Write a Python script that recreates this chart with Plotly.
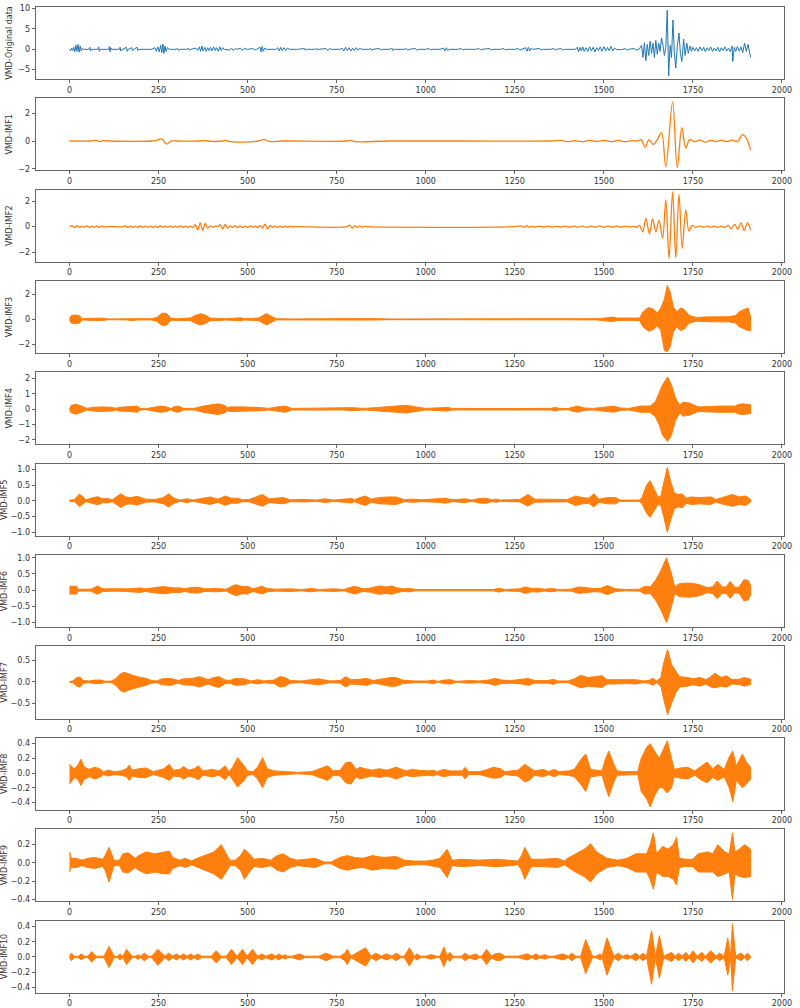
import plotly.graph_objects as go

# ---------------- data ----------------
orig_x = [0, 3, 6, 9, 12, 15, 18, 21, 24, 27, 30, 33, 36, 40, 55, 57, 59, 62, 80, 82, 84, 86, 110, 112, 114, 116, 118,
          140, 142, 144, 150, 160, 162, 165, 175, 177, 180, 190, 192, 195, 230, 240, 244, 248, 252, 256, 259, 262, 265,
          268, 271, 275, 280, 300, 303, 306, 310, 330, 333, 336, 340, 355, 360, 365, 368, 372, 375, 380, 384, 388, 392,
          396, 400, 405, 409, 413, 418, 422, 426, 430, 435, 450, 455, 460, 465, 470, 480, 485, 490, 500, 515, 520, 525,
          535, 538, 541, 544, 548, 552, 580, 585, 589, 593, 597, 602, 607, 612, 618, 640, 660, 662, 665, 690, 695, 698,
          700, 720, 725, 730, 735, 760, 765, 770, 775, 780, 785, 790, 795, 800, 805, 810, 815, 820, 840, 845, 848, 852,
          870, 873, 876, 900, 905, 908, 912, 940, 945, 950, 955, 970, 975, 980, 1000, 1010, 1014, 1018, 1040, 1050,
          1054, 1058, 1062, 1066, 1090, 1100, 1104, 1108, 1140, 1150, 1154, 1158, 1180, 1184, 1188, 1210, 1220, 1224,
          1228, 1250, 1260, 1264, 1268, 1280, 1284, 1288, 1292, 1296, 1300, 1320, 1324, 1328, 1350, 1360, 1364, 1368,
          1380, 1384, 1390, 1420, 1425, 1429, 1433, 1437, 1441, 1445, 1450, 1455, 1460, 1465, 1470, 1475, 1480, 1485,
          1490, 1495, 1500, 1505, 1510, 1515, 1520, 1525, 1530, 1535, 1550, 1560, 1565, 1570, 1585, 1590, 1600, 1606,
          1610, 1614, 1618, 1622, 1626, 1630, 1634, 1638, 1642, 1646, 1650, 1654, 1658, 1662, 1666, 1670, 1674, 1678,
          1682, 1686, 1690, 1694, 1698, 1702, 1706, 1711, 1715, 1719, 1724, 1728, 1733, 1737, 1742, 1746, 1750, 1755,
          1760, 1765, 1770, 1775, 1780, 1785, 1790, 1795, 1800, 1805, 1810, 1815, 1820, 1825, 1830, 1835, 1840, 1845,
          1850, 1855, 1860, 1862, 1866, 1870, 1875, 1880, 1885, 1890, 1895, 1900, 1905, 1910, 1912]
orig_y = [0, -0.4, 0.3, -0.3, 0.5, -0.6, 1.0, -0.5, 1.2, -0.7, 0.8, -0.4, 0.3, 0, 0, 0.5, -0.4, 0, 0, 0.6, -0.5, 0, 0,
          0.7, -0.6, 0.4, 0, 0, 0.5, -0.4, 0, 0.5, -0.5, 0, 0.4, -0.4, 0, 0.5, -0.3, 0, 0, 0.4, -0.5, 0.6, -0.6, 1.0,
          -0.8, 1.3, -1.0, 0.8, -0.5, 0.4, 0, 0, 0.3, -0.3, 0, 0, 0.3, -0.2, 0, 0.3, -0.3, 0.6, -0.5, 0.8, -0.4, 0.5,
          -0.5, 0.4, -0.3, 0.5, -0.4, 0.6, -0.3, 0.4, -0.5, 0.6, -0.3, 0.4, 0, -0.2, 0.3, -0.3, 0.2, 0, 0.3, -0.3, 0.2,
          0, 0.2, -0.2, 0, 0.5, -0.6, 0.7, -0.5, 0.3, 0, 0, 0.4, -0.4, 0.5, -0.3, 0.4, -0.3, 0.3, 0, 0, 0.2, -0.2, 0, 0,
          0.2, -0.2, 0, 0.2, -0.3, 0.2, 0, 0, 0.3, -0.4, 0.5, -0.3, 0.4, -0.4, 0.3, -0.3, 0.4, -0.2, 0.3, 0, 0, 0.2,
          -0.2, 0, 0.2, -0.2, 0, 0, 0.3, -0.3, 0, 0, 0.2, -0.2, 0, 0.2, -0.2, 0, 0, 0.2, -0.2, 0, 0, 0.3, -0.4, 0.4,
          -0.3, 0, 0, 0.2, -0.2, 0, 0, 0.2, -0.2, 0, 0.2, -0.2, 0, 0, 0.2, -0.2, 0, 0, 0.2, -0.2, 0, 0.4, -0.5, 0.5,
          -0.4, 0.3, 0, 0.2, -0.2, 0, 0, 0.2, -0.2, 0, 0.2, -0.2, 0, 0, 0.5, -0.6, 0.5, -0.4, 0.6, -0.5, 0.4, -0.5, 0.6,
          -0.4, 0.5, -0.6, 0.4, -0.3, 0.6, -0.5, 0.7, -0.4, 0.5, -0.3, 0.7, -0.4, 0.3, 0, -0.1, 0.2, -0.2, 0, 0.2,
          -0.2, 0.1, 1.0, -2.0, 1.6, -2.8, 1.2, -1.5, 2.0, -1.0, 1.5, -2.0, 2.2, -1.2, 1.5, -0.5, 2.8, 1.0, -1.5, 0.5,
          9.6, -6.5, 1.0, -2.0, 7.2, -1.0, -4.6, 0.5, 4.0, -1.0, -3.0, 2.5, -1.5, 1.5, -1.0, 0.8, -0.5, 0.5, -0.4, 0.4,
          -0.5, 0.6, -0.3, 0.5, -0.6, 0.4, -0.3, 0.6, -0.5, 0.3, -0.4, 0.5, -0.6, 0.4, -0.3, 0.6, -0.4, 0.3, -0.6, 0.8,
          -3.0, 0.5, -0.5, 0.7, -0.4, 0.6, -0.8, 1.5, -0.5, 1.2, -1.0, -2.0]

imf1_x = [0, 60, 75, 85, 95, 110, 230, 245, 259, 273, 285, 300, 360, 380, 400, 430, 440, 450, 530, 546, 560, 600, 780,
          790, 800, 900, 1100, 1350, 1380, 1400, 1420, 1440, 1460, 1480, 1500, 1520, 1540, 1560, 1580, 1595, 1605, 1616,
          1627, 1639, 1650, 1662, 1674, 1693, 1706, 1719, 1730, 1741, 1755, 1770, 1785, 1800, 1815, 1830, 1845, 1860,
          1875, 1889, 1900, 1912]
imf1_y = [0, 0, 0.05, -0.05, 0.03, 0, 0, 0.05, 0.15, -0.22, 0.0, 0, 0, 0.03, -0.03, 0, 0.05, -0.05, 0, 0.12, -0.03, 0,
          0, 0.05, -0.04, 0, 0, 0, 0.04, -0.04, 0.03, -0.05, 0.04, -0.03, 0.05, -0.04, 0.04, -0.05, 0.03, 0, 0.1,
          -0.45, 0.1, -0.25, 0.1, 0.6, -1.85, 2.8, -1.9, 0.95, -0.5, 0.1, -0.05, 0.06, -0.08, 0.05, -0.04, 0.07, -0.05,
          0.06, -0.03, 0.45, 0.2, -0.65]

imf2_x = [0, 7, 14, 21, 28, 35, 42, 49, 56, 63, 70, 77, 84, 91, 98, 105, 150, 157, 164, 171, 178, 185, 192, 199, 206,
          213, 220, 227, 234, 241, 248, 255, 262, 269, 276, 283, 290, 297, 304, 311, 318, 325, 332, 339, 346, 353, 360,
          367, 374, 381, 388, 395, 402, 409, 416, 423, 430, 437, 444, 451, 458, 465, 472, 479, 486, 493, 500, 507, 514,
          521, 528, 535, 542, 549, 556, 563, 570, 577, 584, 591, 598, 605, 612, 619, 626, 633, 780, 787, 794, 801, 808,
          815, 822, 829, 836, 1250, 1270, 1277, 1284, 1291, 1298, 1305, 1320, 1332, 1344, 1356, 1368, 1380, 1392, 1404,
          1416, 1428, 1440, 1452, 1464, 1476, 1488, 1500, 1512, 1524, 1536, 1548, 1560, 1572, 1584, 1592, 1600, 1609,
          1618, 1628, 1637, 1646, 1655, 1665, 1674, 1683, 1693, 1702, 1711, 1720, 1730, 1739, 1748, 1757, 1770, 1780,
          1790, 1800, 1810, 1820, 1830, 1840, 1849, 1858, 1867, 1876, 1885, 1894, 1903, 1912]
imf2_y = [0, 0.08, -0.08, 0.08, -0.06, 0.05, -0.05, 0.06, -0.06, 0.05, -0.05, 0.06, -0.06, 0.04, -0.03, 0, 0, 0.06,
          -0.06, 0.05, -0.06, 0.05, -0.05, 0.06, -0.05, 0.04, -0.05, 0.05, -0.06, 0.05, -0.07, 0.08, -0.06, 0.05,
          -0.05, 0.06, -0.06, 0.05, -0.05, 0.06, -0.05, 0.05, -0.06, 0.05, -0.08, 0.15, -0.25, 0.3, -0.3, 0.25, -0.12,
          0.06, -0.05, 0.04, 0, 0.15, -0.18, 0.18, -0.12, 0.06, -0.06, 0.08, -0.08, 0.06, -0.06, 0.05, -0.06, 0.06,
          -0.04, 0.05, -0.06, 0.08, -0.12, 0.2, -0.18, 0.1, -0.06, 0.06, -0.06, 0.05, -0.06, 0.05, -0.04, 0.04, -0.03,
          0, 0, 0.12, -0.12, 0.08, -0.05, 0.04, -0.04, 0.03, 0, 0, 0.05, -0.05, 0.08, -0.06, 0.04, -0.03, 0.03, -0.03,
          0.04, -0.04, 0.03, -0.03, 0.04, -0.04, 0.05, -0.05, 0.04, -0.05, 0.05, -0.04, 0.06, -0.05, 0.04, -0.04, 0.05,
          -0.04, 0.04, -0.03, 0.03, -0.05, 0.1, -0.4, 0.65, -0.55, 0.6, -0.4, 0.5, -0.9, 2.1, -2.5, 2.75, -2.45, 2.55,
          -1.7, 1.3, -0.35, 0.1, -0.05, 0.05, -0.05, 0.04, -0.04, 0.05, -0.05, 0.04, -0.06, 0.1, -0.15, 0.2, -0.2, 0.3,
          -0.3, 0.3, -0.25]

imf3_x = [0, 5, 15, 28, 35, 60, 75, 90, 110, 160, 175, 190, 230, 245, 260, 273, 285, 300, 340, 352, 368, 384, 395, 420,
          440, 480, 490, 530, 537, 553, 570, 580, 620, 700, 760, 790, 800, 850, 900, 1000, 1100, 1200, 1300, 1400, 1480,
          1510, 1525, 1537, 1560, 1600, 1610, 1625, 1640, 1650, 1660, 1670, 1678, 1686, 1695, 1705, 1715, 1725, 1740,
          1760, 1800, 1850, 1870, 1880, 1895, 1905, 1912]
imf3_hi = [0.05, 0.3, 0.35, 0.3, 0.05, 0.08, 0.12, 0.1, 0.03, 0.05, 0.1, 0.05, 0.05, 0.15, 0.5, 0.45, 0.08, 0.05, 0.1,
           0.3, 0.45, 0.3, 0.1, 0.1, 0.05, 0.12, 0.05, 0.1, 0.2, 0.45, 0.2, 0.05, 0.03, 0.05, 0.08, 0.1, 0.05, 0.06,
           0.03, 0.04, 0.03, 0.03, 0.03, 0.04, 0.05, 0.12, 0.18, 0.1, 0.08, 0.1, 0.6, 0.95, 0.8, 0.5, 0.9, 1.6, 2.72,
           2.2, 1.0, 0.6, 0.9, 0.8, 0.3, 0.15, 0.2, 0.2, 0.3, 0.6, 0.8, 0.9, 0.2]
imf3_lo = [-0.05, -0.3, -0.35, -0.3, -0.05, -0.08, -0.12, -0.1, -0.03, -0.05, -0.1, -0.05, -0.05, -0.15, -0.5, -0.45,
           -0.08, -0.05, -0.1, -0.3, -0.45, -0.3, -0.1, -0.1, -0.05, -0.12, -0.05, -0.1, -0.2, -0.45, -0.2, -0.05,
           -0.03, -0.05, -0.08, -0.1, -0.05, -0.06, -0.03, -0.04, -0.03, -0.03, -0.03, -0.04, -0.05, -0.12, -0.18, -0.1,
           -0.08, -0.1, -0.6, -0.95, -0.8, -0.5, -0.9, -2.5, -2.6, -2.2, -1.0, -0.6, -0.9, -0.8, -0.3, -0.15, -0.2, -0.2,
           -0.3, -0.6, -0.8, -0.9, -0.9]

imf4_x = [0, 5, 20, 37, 50, 65, 90, 120, 130, 139, 170, 190, 199, 215, 236, 255, 273, 285, 292, 306, 320, 350, 375, 400,
          417, 435, 444, 449, 490, 537, 560, 583, 605, 625, 700, 770, 790, 830, 917, 945, 972, 1000, 1046, 1060, 1074,
          1100, 1200, 1352, 1363, 1375, 1400, 1408, 1427, 1445, 1470, 1509, 1528, 1546, 1570, 1602, 1616, 1630, 1645,
          1655, 1665, 1679, 1690, 1700, 1713, 1722, 1740, 1760, 1769, 1820, 1870, 1875, 1890, 1905, 1912]
imf4_hi = [0.02, 0.25, 0.32, 0.15, 0.05, 0.12, 0.15, 0.12, 0.05, 0.12, 0.15, 0.2, 0.05, 0.03, 0.12, 0.2, 0.15, 0.03,
           0.15, 0.2, 0.05, 0.05, 0.2, 0.3, 0.35, 0.25, 0.1, 0.15, 0.15, 0.1, 0.05, 0.15, 0.2, 0.05, 0.06, 0.05, 0.1,
           0.05, 0.2, 0.25, 0.15, 0.05, 0.1, 0.12, 0.05, 0.04, 0.04, 0.05, 0.12, 0.05, 0.04, 0.1, 0.2, 0.08, 0.05, 0.15,
           0.2, 0.08, 0.05, 0.2, 0.2, 0.2, 0.5, 1.0, 1.6, 2.1, 1.6, 0.8, 0.25, 0.45, 0.4, 0.2, 0.15, 0.2, 0.2, 0.3,
           0.35, 0.3, 0.3]
imf4_lo = [-0.02, -0.25, -0.32, -0.15, -0.05, -0.12, -0.15, -0.12, -0.05, -0.12, -0.15, -0.2, -0.05, -0.03, -0.12,
           -0.2, -0.15, -0.03, -0.15, -0.2, -0.05, -0.05, -0.2, -0.3, -0.35, -0.25, -0.1, -0.15, -0.15, -0.1, -0.05,
           -0.15, -0.2, -0.05, -0.06, -0.05, -0.1, -0.05, -0.2, -0.25, -0.15, -0.05, -0.1, -0.12, -0.05, -0.04, -0.04,
           -0.05, -0.12, -0.05, -0.04, -0.1, -0.2, -0.08, -0.05, -0.15, -0.2, -0.08, -0.05, -0.2, -0.2, -0.2, -0.5,
           -1.0, -1.7, -2.1, -1.7, -0.8, -0.25, -0.45, -0.4, -0.2, -0.15, -0.2, -0.2, -0.3, -0.35, -0.3, -0.3]

imf5_x = [0, 14, 20, 28, 38, 46, 60, 79, 93, 105, 120, 132, 144, 158, 171, 190, 213, 240, 252, 264, 278, 294, 310, 330,
          347, 375, 395, 417, 437, 454, 472, 486, 505, 523, 542, 560, 579, 600, 620, 660, 694, 717, 741, 765, 782, 792,
          800, 815, 831, 847, 870, 893, 917, 940, 960, 991, 1010, 1037, 1055, 1074, 1093, 1111, 1130, 1150, 1170, 1185,
          1199, 1210, 1264, 1287, 1306, 1350, 1398, 1420, 1440, 1458, 1472, 1486, 1510, 1533, 1545, 1600, 1607, 1620,
          1630, 1640, 1652, 1660, 1668, 1678, 1688, 1698, 1709, 1720, 1732, 1745, 1770, 1800, 1815, 1830, 1850, 1861,
          1880, 1898, 1912]
imf5_hi = [0.02, 0.03, 0.12, 0.21, 0.12, 0.03, 0.08, 0.13, 0.06, 0.07, 0.03, 0.12, 0.22, 0.12, 0.1, 0.14, 0.05, 0.04,
           0.06, 0.1, 0.22, 0.08, 0.02, 0.06, 0.02, 0.08, 0.12, 0.05, 0.15, 0.08, 0.08, 0.03, 0.04, 0.12, 0.2, 0.06,
           0.08, 0.1, 0.03, 0.04, 0.02, 0.06, 0.02, 0.03, 0.06, 0.07, 0.03, 0.1, 0.15, 0.05, 0.1, 0.12, 0.12, 0.03,
           0.05, 0.03, 0.04, 0.05, 0.08, 0.03, 0.05, 0.06, 0.02, 0.07, 0.08, 0.03, 0.05, 0.02, 0.04, 0.2, 0.05, 0.04,
           0.04, 0.15, 0.1, 0.08, 0.22, 0.05, 0.1, 0.1, 0.02, 0.02, 0.1, 0.5, 0.64, 0.4, 0.12, 0.15, 0.6, 1.06, 0.6,
           0.25, 0.2, 0.22, 0.08, 0.12, 0.1, 0.12, 0.04, 0.1, 0.16, 0.2, 0.12, 0.15, 0.04]
imf5_lo = [-0.02, -0.03, -0.1, -0.19, -0.1, -0.03, -0.08, -0.13, -0.06, -0.07, -0.03, -0.12, -0.22, -0.12, -0.1, -0.14,
           -0.05, -0.04, -0.06, -0.1, -0.2, -0.08, -0.02, -0.06, -0.02, -0.08, -0.12, -0.05, -0.15, -0.08, -0.08, -0.03,
           -0.04, -0.12, -0.18, -0.06, -0.08, -0.1, -0.03, -0.04, -0.02, -0.06, -0.02, -0.03, -0.06, -0.07, -0.03,
           -0.1, -0.15, -0.05, -0.1, -0.12, -0.12, -0.03, -0.05, -0.03, -0.04, -0.05, -0.08, -0.03, -0.05, -0.06,
           -0.02, -0.07, -0.08, -0.03, -0.05, -0.02, -0.04, -0.17, -0.05, -0.04, -0.04, -0.15, -0.1, -0.08, -0.2,
           -0.05, -0.1, -0.1, -0.02, -0.02, -0.1, -0.4, -0.53, -0.35, -0.12, -0.15, -0.5, -1.01, -0.6, -0.25, -0.2,
           -0.22, -0.08, -0.12, -0.1, -0.12, -0.04, -0.1, -0.16, -0.18, -0.12, -0.15, -0.04]

imf6_x = [0, 20, 24, 60, 70, 79, 93, 130, 160, 181, 197, 213, 236, 264, 292, 310, 324, 340, 360, 380, 410, 440, 452, 467,
          486, 500, 515, 540, 555, 580, 620, 650, 680, 700, 740, 770, 787, 800, 824, 843, 870, 890, 905, 917, 935, 955,
          972, 1000, 1050, 1074, 1190, 1205, 1222, 1264, 1280, 1296, 1315, 1333, 1355, 1370, 1408, 1430, 1450, 1472,
          1491, 1510, 1533, 1560, 1600, 1615, 1630, 1645, 1660, 1676, 1690, 1699, 1712, 1740, 1765, 1790, 1805, 1818,
          1832, 1843, 1855, 1868, 1880, 1893, 1905, 1912]
imf6_hi = [0.12, 0.12, 0.03, 0.03, 0.08, 0.13, 0.04, 0.03, 0.04, 0.05, 0.07, 0.04, 0.08, 0.11, 0.07, 0.07, 0.04, 0.08,
           0.09, 0.04, 0.05, 0.03, 0.1, 0.17, 0.11, 0.12, 0.04, 0.12, 0.05, 0.03, 0.04, 0.02, 0.05, 0.02, 0.04, 0.02,
           0.08, 0.12, 0.04, 0.06, 0.13, 0.1, 0.13, 0.08, 0.04, 0.05, 0.02, 0.02, 0.03, 0.02, 0.02, 0.06, 0.02, 0.04,
           0.1, 0.05, 0.06, 0.03, 0.05, 0.02, 0.03, 0.1, 0.07, 0.05, 0.06, 0.14, 0.04, 0.02, 0.03, 0.12, 0.1, 0.3, 0.6,
           1.0, 0.5, 0.1, 0.2, 0.22, 0.18, 0.08, 0.1, 0.28, 0.1, 0.1, 0.27, 0.08, 0.1, 0.32, 0.3, 0.15]
imf6_lo = [-0.12, -0.12, -0.03, -0.03, -0.08, -0.13, -0.04, -0.03, -0.04, -0.05, -0.07, -0.04, -0.08, -0.11, -0.07,
           -0.07, -0.04, -0.08, -0.09, -0.04, -0.05, -0.03, -0.1, -0.17, -0.11, -0.12, -0.04, -0.12, -0.05, -0.03,
           -0.04, -0.02, -0.05, -0.02, -0.04, -0.02, -0.08, -0.12, -0.04, -0.06, -0.13, -0.1, -0.13, -0.08, -0.04,
           -0.05, -0.02, -0.02, -0.03, -0.02, -0.02, -0.06, -0.02, -0.04, -0.1, -0.05, -0.06, -0.03, -0.05, -0.02,
           -0.03, -0.1, -0.07, -0.05, -0.06, -0.14, -0.04, -0.02, -0.03, -0.12, -0.1, -0.3, -0.6, -1.0, -0.5, -0.1,
           -0.2, -0.22, -0.18, -0.08, -0.1, -0.26, -0.1, -0.1, -0.25, -0.08, -0.1, -0.33, -0.3, -0.15]

imf7_x = [0, 10, 20, 30, 38, 56, 70, 90, 100, 118, 130, 143, 153, 170, 190, 215, 231, 245, 260, 285, 306, 320, 345, 365,
          389, 405, 420, 435, 450, 465, 490, 509, 530, 545, 574, 590, 605, 620, 650, 680, 700, 731, 760, 775, 790, 815,
          835, 852, 875, 900, 917, 935, 970, 1005, 1020, 1035, 1050, 1070, 1085, 1120, 1150, 1176, 1195, 1213, 1240,
          1269, 1288, 1306, 1343, 1358, 1370, 1400, 1417, 1435, 1455, 1475, 1495, 1509, 1530, 1560, 1590, 1610, 1625,
          1638, 1648, 1660, 1668, 1679, 1690, 1702, 1713, 1735, 1750, 1770, 1787, 1800, 1812, 1830, 1845, 1860, 1880,
          1895, 1912]
imf7_hi = [0.01, 0.02, 0.1, 0.11, 0.03, 0.02, 0.04, 0.04, 0.01, 0.02, 0.08, 0.18, 0.22, 0.17, 0.12, 0.08, 0.03, 0.02,
           0.07, 0.08, 0.03, 0.07, 0.08, 0.12, 0.05, 0.1, 0.12, 0.05, 0.03, 0.08, 0.07, 0.02, 0.05, 0.02, 0.04, 0.12,
           0.1, 0.03, 0.02, 0.05, 0.07, 0.02, 0.03, 0.12, 0.05, 0.06, 0.08, 0.03, 0.06, 0.1, 0.1, 0.04, 0.02, 0.02,
           0.04, 0.01, 0.04, 0.05, 0.01, 0.03, 0.02, 0.04, 0.08, 0.04, 0.03, 0.05, 0.08, 0.03, 0.03, 0.06, 0.02, 0.02,
           0.07, 0.15, 0.1, 0.12, 0.14, 0.05, 0.05, 0.04, 0.05, 0.02, 0.03, 0.08, 0.02, 0.1, 0.44, 0.75, 0.4, 0.25,
           0.12, 0.1, 0.07, 0.1, 0.05, 0.12, 0.2, 0.1, 0.14, 0.05, 0.06, 0.1, 0.06]
imf7_lo = [-0.01, -0.02, -0.1, -0.12, -0.03, -0.02, -0.04, -0.04, -0.01, -0.02, -0.08, -0.2, -0.24, -0.18, -0.13, -0.08,
           -0.03, -0.02, -0.07, -0.08, -0.03, -0.07, -0.08, -0.12, -0.05, -0.1, -0.13, -0.05, -0.03, -0.08, -0.07,
           -0.02, -0.05, -0.02, -0.04, -0.12, -0.1, -0.03, -0.02, -0.05, -0.07, -0.02, -0.03, -0.12, -0.05, -0.06,
           -0.08, -0.03, -0.06, -0.1, -0.1, -0.04, -0.02, -0.02, -0.04, -0.01, -0.04, -0.05, -0.01, -0.03, -0.02,
           -0.04, -0.08, -0.04, -0.03, -0.05, -0.08, -0.03, -0.03, -0.06, -0.02, -0.02, -0.07, -0.14, -0.1, -0.12,
           -0.13, -0.05, -0.05, -0.04, -0.05, -0.02, -0.03, -0.08, -0.02, -0.1, -0.4, -0.76, -0.5, -0.25, -0.12, -0.1,
           -0.07, -0.1, -0.05, -0.12, -0.14, -0.1, -0.12, -0.05, -0.06, -0.1, -0.06]

imf8_x = [0, 8, 15, 25, 32, 42, 56, 70, 85, 95, 110, 125, 145, 160, 168, 176, 195, 215, 235, 250, 265, 280, 292, 310,
          320, 335, 350, 362, 375, 400, 420, 437, 448, 458, 472, 490, 500, 515, 528, 542, 555, 575, 600, 640, 680, 713,
          725, 741, 760, 775, 790, 805, 815, 830, 850, 870, 890, 905, 917, 945, 960, 980, 1009, 1020, 1032, 1050, 1070,
          1102, 1111, 1120, 1150, 1167, 1190, 1210, 1222, 1259, 1278, 1290, 1306, 1330, 1345, 1360, 1375, 1400, 1417,
          1435, 1449, 1463, 1480, 1495, 1505, 1514, 1528, 1537, 1560, 1595, 1605, 1620, 1630, 1643, 1655, 1665, 1678,
          1690, 1698, 1715, 1735, 1755, 1775, 1790, 1806, 1820, 1838, 1852, 1862, 1872, 1889, 1900, 1912]
imf8_hi = [0.12, 0.08, 0.06, 0.12, 0.19, 0.08, 0.05, 0.08, 0.06, 0.02, 0.04, 0.02, 0.03, 0.06, 0.11, 0.04, 0.06, 0.07,
           0.02, 0.04, 0.06, 0.12, 0.04, 0.05, 0.09, 0.04, 0.06, 0.1, 0.03, 0.05, 0.03, 0.1, 0.02, 0.08, 0.21, 0.1,
           0.03, 0.02, 0.08, 0.21, 0.06, 0.03, 0.02, 0.01, 0.02, 0.08, 0.1, 0.03, 0.04, 0.14, 0.15, 0.05, 0.08, 0.06,
           0.04, 0.06, 0.04, 0.06, 0.08, 0.03, 0.05, 0.04, 0.03, 0.04, 0.02, 0.05, 0.03, 0.03, 0.08, 0.02, 0.02, 0.04,
           0.08, 0.06, 0.02, 0.04, 0.12, 0.08, 0.03, 0.05, 0.02, 0.05, 0.02, 0.03, 0.05, 0.18, 0.26, 0.05, 0.04, 0.03,
           0.2, 0.3, 0.12, 0.03, 0.02, 0.02, 0.2, 0.35, 0.4, 0.3, 0.2, 0.3, 0.44, 0.2, 0.05, 0.07, 0.08, 0.03, 0.1,
           0.15, 0.06, 0.12, 0.05, 0.22, 0.3, 0.1, 0.26, 0.15, 0.08]
imf8_lo = [-0.15, -0.1, -0.06, -0.1, -0.17, -0.08, -0.05, -0.08, -0.06, -0.02, -0.04, -0.02, -0.03, -0.05, -0.1, -0.04,
           -0.06, -0.06, -0.02, -0.04, -0.06, -0.1, -0.04, -0.05, -0.08, -0.04, -0.06, -0.09, -0.03, -0.05, -0.03,
           -0.09, -0.02, -0.08, -0.19, -0.1, -0.03, -0.02, -0.08, -0.2, -0.06, -0.03, -0.02, -0.01, -0.02, -0.08, -0.1,
           -0.03, -0.04, -0.13, -0.15, -0.05, -0.08, -0.06, -0.04, -0.06, -0.04, -0.06, -0.08, -0.03, -0.05, -0.04,
           -0.03, -0.04, -0.02, -0.05, -0.03, -0.03, -0.08, -0.02, -0.02, -0.04, -0.07, -0.06, -0.02, -0.04, -0.12,
           -0.1, -0.03, -0.05, -0.02, -0.05, -0.02, -0.03, -0.05, -0.15, -0.25, -0.05, -0.04, -0.03, -0.2, -0.32,
           -0.12, -0.03, -0.02, -0.02, -0.25, -0.35, -0.46, -0.3, -0.2, -0.2, -0.27, -0.2, -0.05, -0.07, -0.08, -0.03,
           -0.1, -0.13, -0.06, -0.1, -0.05, -0.2, -0.39, -0.1, -0.2, -0.15, -0.08]

imf9_x = [0, 5, 20, 35, 51, 70, 93, 100, 111, 120, 125, 140, 150, 165, 185, 194, 215, 240, 265, 280, 290, 310, 325, 343,
          352, 380, 405, 426, 440, 450, 465, 480, 491, 505, 518, 540, 565, 583, 600, 620, 640, 662, 690, 715, 735, 759,
          780, 800, 824, 850, 880, 917, 940, 970, 1000, 1019, 1040, 1060, 1074, 1102, 1150, 1200, 1240, 1259, 1269,
          1278, 1296, 1330, 1370, 1389, 1398, 1420, 1445, 1463, 1480, 1509, 1540, 1565, 1590, 1620, 1630, 1639, 1648,
          1665, 1680, 1695, 1704, 1712, 1730, 1750, 1765, 1790, 1806, 1820, 1840, 1852, 1861, 1868, 1880, 1895, 1912]
imf9_hi = [0.12, 0.05, 0.05, 0.03, 0.05, 0.06, 0.04, 0.08, 0.17, 0.08, 0.03, 0.03, 0.1, 0.11, 0.05, 0.08, 0.12, 0.1,
           0.12, 0.13, 0.06, 0.03, 0.05, 0.02, 0.04, 0.08, 0.12, 0.2, 0.1, 0.03, 0.03, 0.08, 0.15, 0.1, 0.04, 0.05,
           0.03, 0.08, 0.1, 0.05, 0.03, 0.04, 0.05, 0.01, 0.01, 0.06, 0.08, 0.06, 0.05, 0.08, 0.06, 0.07, 0.03, 0.02,
           0.02, 0.03, 0.05, 0.15, 0.03, 0.04, 0.03, 0.04, 0.03, 0.02, 0.08, 0.17, 0.04, 0.04, 0.05, 0.02, 0.05, 0.1,
           0.15, 0.21, 0.12, 0.05, 0.03, 0.05, 0.1, 0.1, 0.2, 0.33, 0.1, 0.18, 0.15, 0.2, 0.28, 0.05, 0.04, 0.04, 0.1,
           0.12, 0.1, 0.2, 0.12, 0.1, 0.33, 0.12, 0.15, 0.2, 0.15]
imf9_lo = [-0.1, -0.05, -0.05, -0.03, -0.05, -0.06, -0.04, -0.08, -0.21, -0.1, -0.03, -0.03, -0.1, -0.11, -0.05, -0.08,
           -0.12, -0.1, -0.12, -0.12, -0.06, -0.03, -0.05, -0.02, -0.04, -0.08, -0.12, -0.18, -0.1, -0.03, -0.03,
           -0.08, -0.18, -0.1, -0.04, -0.05, -0.03, -0.08, -0.1, -0.05, -0.03, -0.04, -0.05, -0.01, -0.01, -0.06,
           -0.08, -0.06, -0.05, -0.08, -0.06, -0.07, -0.03, -0.02, -0.02, -0.03, -0.05, -0.16, -0.03, -0.04, -0.03,
           -0.04, -0.03, -0.02, -0.08, -0.18, -0.04, -0.04, -0.05, -0.02, -0.05, -0.1, -0.15, -0.21, -0.12, -0.05,
           -0.03, -0.05, -0.1, -0.1, -0.18, -0.29, -0.1, -0.15, -0.15, -0.18, -0.24, -0.05, -0.04, -0.04, -0.1, -0.1,
           -0.1, -0.15, -0.12, -0.1, -0.4, -0.12, -0.15, -0.16, -0.15]

imf10_x = [0, 5, 14, 25, 33, 42, 52, 62, 74, 97, 111, 125, 135, 142, 150, 160, 176, 185, 193, 200, 210, 222, 231, 248,
           268, 278, 290, 300, 310, 320, 330, 340, 350, 360, 370, 398, 412, 426, 440, 455, 470, 486, 498, 514, 528, 540,
           550, 568, 578, 588, 598, 605, 612, 625, 646, 660, 700, 720, 740, 760, 773, 780, 790, 815, 831, 847, 860, 875,
           890, 905, 917, 930, 940, 954, 968, 975, 985, 1000, 1015, 1030, 1040, 1051, 1060, 1068, 1076, 1100, 1111,
           1122, 1140, 1150, 1157, 1171, 1185, 1194, 1208, 1222, 1240, 1260, 1285, 1298, 1310, 1320, 1335, 1345, 1360,
           1385, 1400, 1410, 1422, 1435, 1449, 1468, 1478, 1490, 1495, 1509, 1528, 1540, 1552, 1565, 1575, 1590, 1600,
           1610, 1620, 1634, 1645, 1656, 1668, 1680, 1690, 1700, 1710, 1720, 1730, 1740, 1750, 1762, 1775, 1785, 1800,
           1815, 1825, 1838, 1848, 1856, 1861, 1870, 1885, 1895, 1903, 1912]
imf10_hi = [0.01, 0.05, 0.01, 0.01, 0.04, 0.01, 0.01, 0.07, 0.01, 0.01, 0.14, 0.01, 0.01, 0.04, 0.01, 0.1, 0.01, 0.01,
            0.03, 0.01, 0.05, 0.01, 0.01, 0.1, 0.01, 0.05, 0.01, 0.04, 0.01, 0.04, 0.01, 0.04, 0.01, 0.04, 0.01, 0.01,
            0.08, 0.01, 0.01, 0.1, 0.01, 0.1, 0.01, 0.1, 0.01, 0.04, 0.01, 0.04, 0.01, 0.04, 0.01, 0.03, 0.01, 0.01,
            0.04, 0.01, 0.01, 0.05, 0.01, 0.01, 0.05, 0.1, 0.01, 0.08, 0.12, 0.01, 0.05, 0.01, 0.04, 0.01, 0.05, 0.01,
            0.01, 0.12, 0.01, 0.04, 0.01, 0.01, 0.03, 0.01, 0.01, 0.13, 0.02, 0.06, 0.01, 0.01, 0.05, 0.01, 0.04, 0.01,
            0.01, 0.1, 0.01, 0.04, 0.05, 0.01, 0.01, 0.01, 0.04, 0.01, 0.04, 0.01, 0.03, 0.01, 0.01, 0.04, 0.01, 0.05,
            0.01, 0.01, 0.23, 0.01, 0.01, 0.04, 0.01, 0.25, 0.01, 0.05, 0.01, 0.03, 0.01, 0.05, 0.01, 0.05, 0.01, 0.35,
            0.01, 0.28, 0.01, 0.04, 0.06, 0.01, 0.05, 0.01, 0.06, 0.01, 0.08, 0.01, 0.06, 0.01, 0.08, 0.01, 0.05, 0.01,
            0.25, 0.01, 0.44, 0.01, 0.05, 0.01, 0.05, 0.01]
imf10_lo = [-0.01, -0.05, -0.01, -0.01, -0.04, -0.01, -0.01, -0.07, -0.01, -0.01, -0.14, -0.01, -0.01, -0.04, -0.01,
            -0.1, -0.01, -0.01, -0.03, -0.01, -0.05, -0.01, -0.01, -0.11, -0.01, -0.05, -0.01, -0.04, -0.01, -0.04,
            -0.01, -0.04, -0.01, -0.04, -0.01, -0.01, -0.08, -0.01, -0.01, -0.1, -0.01, -0.1, -0.01, -0.1, -0.01,
            -0.04, -0.01, -0.04, -0.01, -0.04, -0.01, -0.03, -0.01, -0.01, -0.04, -0.01, -0.01, -0.05, -0.01, -0.01,
            -0.05, -0.1, -0.01, -0.08, -0.12, -0.01, -0.05, -0.01, -0.04, -0.01, -0.05, -0.01, -0.01, -0.12, -0.01,
            -0.04, -0.01, -0.01, -0.03, -0.01, -0.01, -0.13, -0.02, -0.06, -0.01, -0.01, -0.05, -0.01, -0.04, -0.01,
            -0.01, -0.1, -0.01, -0.04, -0.05, -0.01, -0.01, -0.01, -0.04, -0.01, -0.04, -0.01, -0.03, -0.01, -0.01,
            -0.04, -0.01, -0.05, -0.01, -0.01, -0.22, -0.01, -0.01, -0.04, -0.01, -0.24, -0.01, -0.05, -0.01, -0.03,
            -0.01, -0.05, -0.01, -0.05, -0.01, -0.36, -0.01, -0.28, -0.01, -0.04, -0.06, -0.01, -0.05, -0.01, -0.06,
            -0.01, -0.08, -0.01, -0.06, -0.01, -0.08, -0.01, -0.05, -0.01, -0.24, -0.01, -0.45, -0.01, -0.05, -0.01,
            -0.05, -0.01]

panel_titles = ["VMD-Original data", "VMD-IMF1", "VMD-IMF2", "VMD-IMF3", "VMD-IMF4", "VMD-IMF5",
                "VMD-IMF6", "VMD-IMF7", "VMD-IMF8", "VMD-IMF9", "VMD-IMF10"]
x_ticks = [0, 250, 500, 750, 1000, 1250, 1500, 1750, 2000]
y_ticks = [[-5, 0, 5, 10], [-2, 0, 2], [-2, 0, 2], [-2, 0, 2], [-2, -1, 0, 1, 2],
           [-1.0, -0.5, 0.0, 0.5, 1.0], [-1.0, -0.5, 0.0, 0.5, 1.0], [-0.5, 0.0, 0.5],
           [-0.4, -0.2, 0.0, 0.2, 0.4], [-0.4, -0.2, 0.0, 0.2], [-0.4, -0.2, 0.0, 0.2, 0.4]]
y_ranges = [[-7.3, 10.4], [-2.1, 3.05], [-2.75, 2.9], [-2.7, 3.06], [-2.3, 2.4], [-1.12, 1.18],
            [-1.14, 1.08], [-0.85, 0.82], [-0.5, 0.48], [-0.42, 0.37], [-0.47, 0.48]]
y_formats = ["d", "d", "d", "d", "d", ".1f", ".1f", ".1f", ".1f", ".1f", ".1f"]

# ---------------- figure ----------------
BLUE = "#1f77b4"
ORANGE = "#ff7f0e"
W, H = 800, 1008
LEFT_PX, RIGHT_PX = 36, 792
TOP0, PITCH, PH = 4, 91.9, 72.5

fig = go.Figure()

line_series = [(orig_x, orig_y, BLUE, "linear", 1.0), (imf1_x, imf1_y, ORANGE, "spline", 1.3),
               (imf2_x, imf2_y, ORANGE, "spline", 1.3)]
band_series = [(imf3_x, imf3_hi, imf3_lo), (imf4_x, imf4_hi, imf4_lo), (imf5_x, imf5_hi, imf5_lo),
               (imf6_x, imf6_hi, imf6_lo), (imf7_x, imf7_hi, imf7_lo), (imf8_x, imf8_hi, imf8_lo),
               (imf9_x, imf9_hi, imf9_lo), (imf10_x, imf10_hi, imf10_lo)]

def axis_names(i):
    n = i + 1
    return ("x" if n == 1 else f"x{n}"), ("y" if n == 1 else f"y{n}")

for i, (xs, ys, col, shape, lw) in enumerate(line_series):
    xa, ya = axis_names(i)
    fig.add_trace(go.Scatter(x=xs, y=ys, mode="lines", line=dict(color=col, width=lw, shape=shape),
                             xaxis=xa, yaxis=ya, showlegend=False, hoverinfo="skip"))

for j, (xs, hi, lo) in enumerate(band_series):
    i = j + 3
    xa, ya = axis_names(i)
    fig.add_trace(go.Scatter(x=list(xs) + list(xs)[::-1], y=list(hi) + list(lo)[::-1], mode="lines",
                             fill="toself", fillcolor=ORANGE, line=dict(color=ORANGE, width=1.0),
                             xaxis=xa, yaxis=ya, showlegend=False, hoverinfo="skip"))

layout = dict(width=W, height=H, margin=dict(l=0, r=0, t=0, b=0), paper_bgcolor="white",
              plot_bgcolor="white", showlegend=False,
              font=dict(family="DejaVu Sans", size=8, color="#333333"))
axis_common = dict(showline=True, mirror=True, linecolor="#666666", linewidth=1, ticks="outside",
                   ticklen=3, tickwidth=1, tickcolor="#666666", showgrid=False, zeroline=False,
                   ticklabeloverflow="allow",
                   tickfont=dict(family="DejaVu Sans", size=8, color="#333333"))
for i in range(11):
    n = i + 1
    top = TOP0 + PITCH * i
    y0 = 1 - (top + PH) / H
    y1 = 1 - top / H
    xk = "xaxis" if n == 1 else f"xaxis{n}"
    yk = "yaxis" if n == 1 else f"yaxis{n}"
    ya = "y" if n == 1 else f"y{n}"
    xa = "x" if n == 1 else f"x{n}"
    layout[xk] = dict(axis_common, domain=[LEFT_PX / W, RIGHT_PX / W], anchor=ya, range=[-95, 2006],
                      tickvals=x_ticks, ticktext=[str(v) for v in x_ticks])
    layout[yk] = dict(axis_common, domain=[y0, y1], anchor=xa, range=y_ranges[i], tickvals=y_ticks[i],
                      tickformat=y_formats[i],
                      title=dict(text=panel_titles[i], font=dict(family="DejaVu Sans", size=8, color="#333333"),
                                 standoff=4))
fig.update_layout(**layout)

fig.write_html("out.html")
